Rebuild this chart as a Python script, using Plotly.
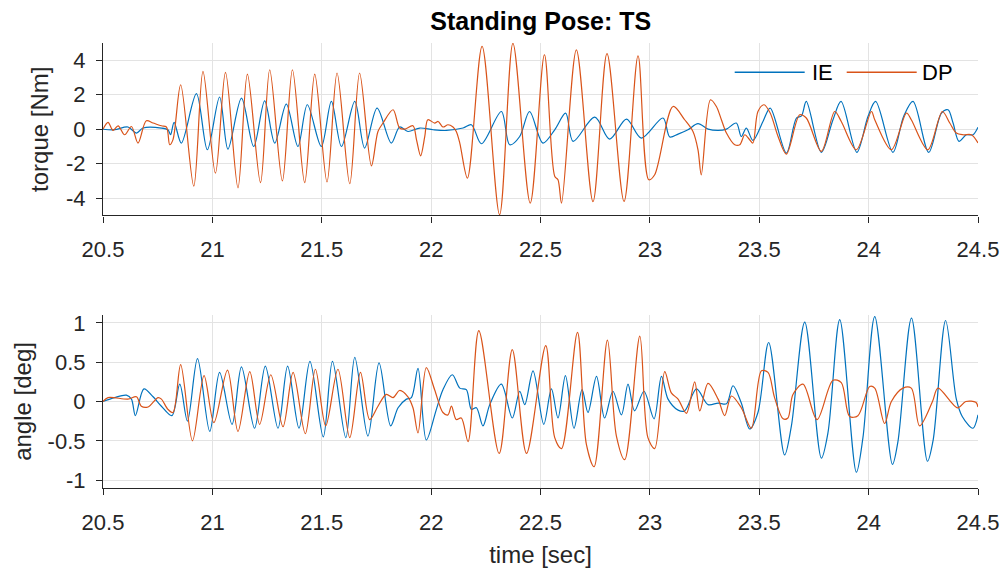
import plotly.graph_objects as go

# ---------------- data ----------------
torque_dp_t = [20.500, 20.523, 20.546, 20.569, 20.599, 20.630, 20.660, 20.698, 20.729, 20.767,
               20.790, 20.805, 20.820, 20.855, 20.915, 20.957, 21.014, 21.060, 21.117, 21.160,
               21.220, 21.262, 21.320, 21.366, 21.422, 21.468, 21.524, 21.570, 21.628, 21.673,
               21.727, 21.757, 21.780, 21.826, 21.856, 21.879, 21.917, 21.933, 21.952, 21.971,
               21.985, 22.016, 22.032, 22.054, 22.077, 22.100, 22.115, 22.131, 22.166, 22.233,
               22.313, 22.374, 22.453, 22.518, 22.565, 22.580, 22.596, 22.664, 22.740, 22.804,
               22.882, 22.946, 22.995, 23.022, 23.106, 23.159, 23.197, 23.220, 23.235, 23.277,
               23.304, 23.327, 23.350, 23.388, 23.411, 23.434, 23.456, 23.471, 23.494, 23.522,
               23.550, 23.586, 23.624, 23.685, 23.715, 23.784, 23.845, 23.875, 23.944, 24.013,
               24.028, 24.104, 24.173, 24.195, 24.271, 24.337, 24.371, 24.401, 24.432, 24.470,
               24.500]
torque_dp = [0.00, 0.40, -0.07, 0.20, -0.32, 0.16, -0.80, 0.49, 0.36, 0.20,
             0.13, -0.90, -0.60, 2.58, -3.30, 3.35, -2.55, 3.30, -3.40, 3.20,
             -3.10, 3.45, -3.00, 3.45, -3.10, 3.20, -3.05, 3.26, -3.16, 3.26,
             -2.12, -0.13, 0.36, 1.13, 0.07, 0.01, 0.20, -0.60, -1.54, -0.42,
             0.55, 0.36, 0.45, 0.13, 0.26, 0.13, -0.13, -0.80, -2.83, 4.80,
             -4.95, 4.98, -4.28, 4.32, -2.73, -2.93, -4.28, 4.60, -4.20, 4.38,
             -4.18, 4.26, -2.93, -2.64, 1.32, 0.55, -0.13, -1.19, -2.64, 1.71,
             1.32, 0.55, -0.22, -0.90, -0.90, -0.32, -0.61, -0.80, 1.03, 1.42,
             0.94, -0.42, -1.44, 0.84, 0.65, -1.28, 1.03, 0.45, -1.19, 1.03,
             0.55, -1.19, 0.94, 0.55, -1.19, 1.03, 0.36, -0.22, -0.32, -0.32,
             -0.80]

torque_ie_t = [20.500, 20.553, 20.614, 20.653, 20.683, 20.767, 20.797, 20.809, 20.825, 20.858,
               20.927, 20.977, 21.033, 21.071, 21.133, 21.189, 21.239, 21.285, 21.338, 21.391,
               21.434, 21.498, 21.544, 21.590, 21.651, 21.696, 21.753, 21.818, 21.856, 21.894,
               21.948, 22.009, 22.070, 22.146, 22.184, 22.230, 22.321, 22.359, 22.405, 22.450,
               22.511, 22.565, 22.615, 22.649, 22.748, 22.816, 22.893, 22.961, 23.060, 23.091,
               23.129, 23.174, 23.220, 23.266, 23.312, 23.350, 23.395, 23.418, 23.441, 23.471,
               23.517, 23.550, 23.624, 23.670, 23.693, 23.715, 23.784, 23.837, 23.874, 23.946,
               23.997, 24.032, 24.111, 24.160, 24.203, 24.275, 24.333, 24.363, 24.386, 24.413,
               24.447, 24.477, 24.500]
torque_ie = [0.00, -0.03, 0.13, -0.22, 0.07, 0.07, -0.03, -0.32, 0.40, -0.80,
             2.06, -1.19, 1.87, -1.15, 1.80, -1.00, 1.65, -0.80, 1.46, -1.00,
             1.42, -1.00, 1.61, -1.00, 1.61, -1.09, 1.23, -0.80, 0.13, -0.13,
             0.07, -0.03, -0.07, 0.07, 0.26, -0.84, 1.03, -0.90, -0.42, 1.03,
             -0.80, -0.03, 0.93, -0.70, 0.70, -0.57, 0.59, -0.51, 0.65, -0.45,
             -0.28, -0.03, 0.32, 0.01, -0.07, 0.01, 0.36, -0.42, 0.07, -0.65,
             0.45, 1.23, -1.38, 0.65, 0.78, 1.61, -1.34, 0.55, 1.61, -1.34,
             0.74, 1.61, -1.34, 0.74, 1.61, -1.34, 0.94, 1.13, 0.36, -0.70,
             -0.32, -0.32, 0.12]

angle_ie_t = [20.500, 20.553, 20.607, 20.630, 20.648, 20.687, 20.729, 20.767, 20.815, 20.851,
              20.886, 20.932, 20.988, 21.033, 21.090, 21.133, 21.193, 21.242, 21.300, 21.344,
              21.396, 21.446, 21.507, 21.549, 21.610, 21.651, 21.711, 21.762, 21.815, 21.849,
              21.887, 21.910, 21.940, 21.978, 22.024, 22.054, 22.097, 22.131, 22.161, 22.184,
              22.207, 22.237, 22.268, 22.321, 22.371, 22.405, 22.428, 22.466, 22.515, 22.550,
              22.580, 22.614, 22.653, 22.690, 22.717, 22.756, 22.793, 22.831, 22.870, 22.900,
              22.930, 22.973, 23.019, 23.053, 23.083, 23.129, 23.159, 23.213, 23.266, 23.312,
              23.350, 23.380, 23.418, 23.456, 23.494, 23.543, 23.616, 23.647, 23.708, 23.784,
              23.814, 23.868, 23.944, 23.974, 24.028, 24.109, 24.134, 24.196, 24.269, 24.295,
              24.352, 24.401, 24.428, 24.477, 24.500]
angle_ie = [0.00, 0.05, 0.08, 0.03, -0.18, 0.16, 0.06, -0.06, -0.18, 0.22,
            -0.25, 0.545, -0.38, 0.37, -0.29, 0.44, -0.34, 0.45, -0.34, 0.45,
            -0.34, 0.51, -0.45, 0.51, -0.46, 0.56, -0.44, 0.49, -0.31, -0.08,
            0.03, 0.05, 0.42, -0.49, -0.10, 0.15, 0.34, 0.17, 0.15, -0.10,
            -0.08, -0.31, -0.04, 0.22, -0.21, 0.13, -0.04, 0.39, -0.29, 0.16,
            -0.21, 0.33, -0.34, 0.15, -0.14, 0.32, -0.21, 0.13, -0.17, 0.22,
            -0.12, 0.13, -0.22, 0.32, 0.03, -0.11, -0.12, 0.16, -0.04, -0.02,
            -0.03, 0.20, -0.02, -0.35, -0.14, 0.75, -0.68, -0.31, 1.01, -0.72,
            -0.40, 1.04, -0.90, -0.46, 1.08, -0.80, -0.51, 1.06, -0.76, -0.49,
            1.03, 0.03, -0.19, -0.34, -0.17]

angle_dp_t = [20.500, 20.523, 20.614, 20.653, 20.675, 20.706, 20.752, 20.767, 20.797, 20.820,
              20.855, 20.909, 20.962, 21.007, 21.069, 21.117, 21.171, 21.216, 21.267, 21.323,
              21.369, 21.425, 21.471, 21.518, 21.574, 21.628, 21.677, 21.719, 21.757, 21.795,
              21.826, 21.856, 21.894, 21.917, 21.940, 21.978, 22.016, 22.054, 22.077, 22.093,
              22.115, 22.138, 22.169, 22.218, 22.311, 22.371, 22.436, 22.524, 22.565, 22.596,
              22.669, 22.710, 22.745, 22.806, 22.847, 22.885, 22.954, 22.991, 23.022, 23.068,
              23.098, 23.129, 23.167, 23.205, 23.228, 23.266, 23.312, 23.342, 23.373, 23.418,
              23.464, 23.510, 23.540, 23.570, 23.609, 23.631, 23.654, 23.700, 23.764, 23.837,
              23.875, 23.913, 23.951, 24.005, 24.028, 24.073, 24.104, 24.157, 24.195, 24.233,
              24.292, 24.317, 24.406, 24.444, 24.490, 24.500]
angle_dp = [0.00, 0.05, 0.03, 0.06, -0.06, -0.07, 0.05, 0.03, -0.10, -0.14,
            0.47, -0.50, 0.33, -0.27, 0.40, -0.38, 0.38, -0.29, 0.34, -0.32,
            0.37, -0.41, 0.41, -0.31, 0.41, -0.46, 0.37, -0.23, -0.06, 0.09,
            0.05, 0.14, 0.06, -0.08, -0.40, 0.43, 0.15, -0.14, -0.17, -0.06,
            -0.23, -0.21, -0.51, 0.90, -0.66, 0.66, -0.66, 0.71, -0.46, -0.60,
            0.88, -0.55, -0.83, 0.78, -0.44, -0.74, 0.83, -0.46, -0.60, 0.38,
            0.11, 0.03, -0.15, 0.25, -0.12, 0.23, 0.03, -0.18, 0.07, -0.08,
            -0.34, 0.39, 0.37, 0.05, -0.22, -0.21, 0.09, 0.22, -0.23, 0.27,
            0.24, -0.19, -0.18, 0.19, 0.17, -0.28, 0.00, 0.17, 0.17, -0.31,
            0.00, 0.17, -0.08, 0.00, -0.01, -0.07]

x_ticks = [20.5, 21, 21.5, 22, 22.5, 23, 23.5, 24, 24.5]
x_tick_labels = ["20.5", "21", "21.5", "22", "22.5", "23", "23.5", "24", "24.5"]
torque_ticks = [-4, -2, 0, 2, 4]
torque_tick_labels = ["-4", "-2", "0", "2", "4"]
angle_ticks = [-1, -0.5, 0, 0.5, 1]
angle_tick_labels = ["-1", "-0.5", "0", "0.5", "1"]

series_names = ["IE", "DP"]
# ---------------------------------------------------------------

BLUE = "#0072BD"
ORANGE = "#D95319"
AX = "#262626"
GRID = "#e3e3e3"
FONT = "Liberation Sans, Arial, sans-serif"

fig = go.Figure()
line_kw = dict(shape="spline", smoothing=0.9, width=1.2)

fig.add_trace(go.Scatter(x=torque_ie_t, y=torque_ie, mode="lines", name=series_names[0],
                         line=dict(color=BLUE, **line_kw), xaxis="x", yaxis="y", showlegend=False))
fig.add_trace(go.Scatter(x=torque_dp_t, y=torque_dp, mode="lines", name=series_names[1],
                         line=dict(color=ORANGE, **line_kw), xaxis="x", yaxis="y", showlegend=False))
fig.add_trace(go.Scatter(x=angle_ie_t, y=angle_ie, mode="lines", name=series_names[0],
                         line=dict(color=BLUE, **line_kw), xaxis="x2", yaxis="y2", showlegend=False))
fig.add_trace(go.Scatter(x=angle_dp_t, y=angle_dp, mode="lines", name=series_names[1],
                         line=dict(color=ORANGE, **line_kw), xaxis="x2", yaxis="y2", showlegend=False))

xcommon = dict(range=[20.5, 24.5], tickvals=x_ticks, ticktext=x_tick_labels,
               showgrid=True, gridcolor=GRID, gridwidth=1,
               showline=True, linecolor=AX, linewidth=1.2,
               ticks="outside", ticklen=6, tickcolor=AX, tickwidth=1,
               tickfont=dict(size=22, color=AX, family=FONT),
               ticklabelstandoff=8, zeroline=False, domain=[0, 1])
ycommon = dict(showgrid=True, gridcolor=GRID, gridwidth=1,
               showline=True, linecolor=AX, linewidth=1.2,
               ticks="outside", ticklen=6, tickcolor=AX, tickwidth=1,
               tickfont=dict(size=22, color=AX, family=FONT),
               ticklabelstandoff=6, zeroline=False)

fig.update_layout(
    width=1005, height=571,
    paper_bgcolor="white", plot_bgcolor="white",
    margin=dict(l=103, r=27, t=43, b=83, autoexpand=False),
    font=dict(family=FONT, color=AX),
    xaxis=dict(anchor="y", **xcommon),
    yaxis=dict(anchor="x", domain=[0.6124, 1.0], range=[-5, 5], tickvals=torque_ticks,
               ticktext=torque_tick_labels,
               title=dict(text="torque [Nm]", font=dict(size=24, color=AX, family=FONT), standoff=10),
               **ycommon),
    xaxis2=dict(anchor="y2",
                title=dict(text="time [sec]", font=dict(size=24, color=AX, family=FONT), standoff=12),
                **xcommon),
    yaxis2=dict(anchor="x2", domain=[0.0, 0.3888], range=[-1.1, 1.1], tickvals=angle_ticks,
                ticktext=angle_tick_labels,
                title=dict(text="angle [deg]", font=dict(size=24, color=AX, family=FONT), standoff=9),
                **ycommon),
    title=dict(text="<b>Standing Pose: TS</b>", x=0.5381, xanchor="center", y=0.962, yanchor="middle",
               font=dict(size=25, color="#000000", family=FONT)),
    showlegend=False,
)

# legend (drawn in the top panel, upper right)
leg_y = 0.934
def px(xp):
    return (xp - 103.3) / 875.0
fig.add_shape(type="line", xref="paper", yref="paper", x0=px(735), x1=px(805), y0=leg_y, y1=leg_y,
              line=dict(color=BLUE, width=1.5))
fig.add_shape(type="line", xref="paper", yref="paper", x0=px(847), x1=px(917), y0=leg_y, y1=leg_y,
              line=dict(color=ORANGE, width=1.5))
fig.add_annotation(text=series_names[0], xref="paper", yref="paper", x=px(810), y=leg_y,
                   xanchor="left", yanchor="middle", showarrow=False,
                   font=dict(size=22, color="#000000", family=FONT))
fig.add_annotation(text=series_names[1], xref="paper", yref="paper", x=px(920), y=leg_y,
                   xanchor="left", yanchor="middle", showarrow=False,
                   font=dict(size=22, color="#000000", family=FONT))

fig.write_html("out.html", config={"displayModeBar": False},
               post_script="document.body.style.margin='0';document.body.style.padding='0';")
